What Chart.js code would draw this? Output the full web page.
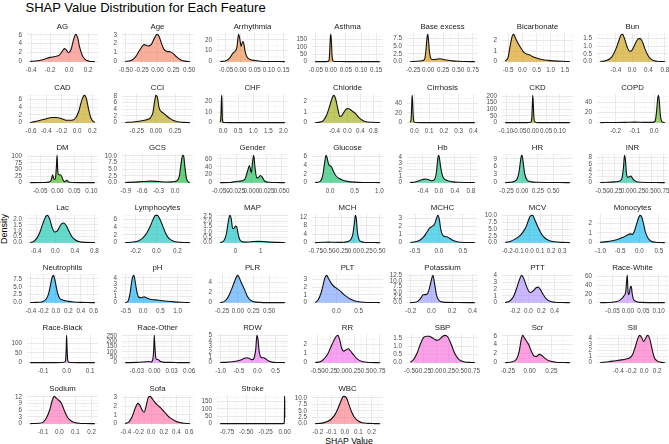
<!DOCTYPE html>
<html>
<head>
<meta charset="utf-8">
<script src="https://cdn.jsdelivr.net/npm/chart.js@4.4.1/dist/chart.umd.min.js"></script>
<style>
html,body{margin:0;padding:0;background:#fff;overflow:hidden;}
#wrap{position:relative;width:669px;height:444px;overflow:hidden;background:#fff;font-family:"Liberation Sans",Arial,sans-serif;}
#wrap canvas{position:absolute;}
.t{position:absolute;white-space:nowrap;line-height:1;color:#000;}
</style>
</head>
<body>
<div id="wrap">
  <div class="t" style="left:25.5px;top:1px;font-size:13px;">SHAP Value Distribution for Each Feature</div>
  <div class="t" style="left:4px;top:229px;font-size:9px;transform:translate(-50%,-50%) rotate(-90deg);">Density</div>
  <div class="t" style="left:349px;top:440.5px;font-size:8.7px;transform:translate(-50%,-50%);">SHAP Value</div>
</div>
<script>
const categories = ["AG","Age","Arrhythmia","Asthma","Base excess","Bicarbonate","Bun",
  "CAD","CCI","CHF","Chloride","Cirrhosis","CKD","COPD",
  "DM","GCS","Gender","Glucose","Hb","HR","INR",
  "Lac","Lymphocytes","MAP","MCH","MCHC","MCV","Monocytes",
  "Neutrophils","pH","PLR","PLT","Potassium","PTT","Race-White",
  "Race-Black","Race-Other","RDW","RR","SBP","Scr","SII",
  "Sodium","Sofa","Stroke","WBC"];

const shapValues = [
  [-0.41,-0.33,-0.26,-0.2,-0.15,-0.1,-0.07,-0.05,-0.03,-0.006,0.02,0.045,0.07,0.09,0.11,0.14,0.17,0.21,0.27],
  [-0.51,-0.42,-0.35,-0.28,-0.21,-0.15,-0.1,-0.05,-0.01,0.02,0.06,0.1,0.15,0.2,0.25,0.3,0.36,0.43,0.51],
  [-0.07,-0.05,-0.035,-0.025,-0.018,-0.012,-0.006,-0.002,0.003,0.008,0.012,0.017,0.024,0.035,0.05,0.07,0.1,0.155],
  [-0.052,-0.02,-0.01,-0.006,-0.004,-0.002,0,0.002,0.004,0.007,0.012,0.03,0.06,0.1,0.162],
  [-0.3,-0.2,-0.1,-0.06,-0.04,-0.02,-0.01,0,0.02,0.04,0.07,0.1,0.15,0.2,0.25,0.3,0.4,0.5,0.6,0.78],
  [-0.6,-0.5,-0.42,-0.35,-0.3,-0.25,-0.15,-0.05,0.05,0.15,0.25,0.35,0.5,0.7,0.9,1.1,1.4,1.67],
  [-0.78,-0.65,-0.5,-0.4,-0.32,-0.27,-0.23,-0.18,-0.12,-0.06,-0.02,0.04,0.1,0.16,0.2,0.26,0.32,0.4,0.5,0.6,0.8],
  [-0.61,-0.55,-0.48,-0.4,-0.33,-0.27,-0.2,-0.13,-0.07,-0.02,0.02,0.05,0.08,0.1,0.12,0.15,0.18,0.21,0.23],
  [-0.4,-0.3,-0.2,-0.12,-0.07,-0.04,-0.02,0,0.02,0.04,0.07,0.1,0.14,0.18,0.22,0.28,0.35,0.44],
  [-0.1,-0.08,-0.06,-0.05,-0.04,-0.03,-0.015,0,0.05,0.2,0.5,1,1.5,2.05],
  [-1.0,-0.85,-0.75,-0.65,-0.55,-0.47,-0.42,-0.37,-0.3,-0.24,-0.18,-0.1,-0.04,0.02,0.08,0.15,0.25,0.35,0.45,0.55,0.7,1.0],
  [-0.028,-0.022,-0.018,-0.015,-0.012,-0.008,-0.004,0,0.01,0.05,0.1,0.2,0.3,0.41],
  [-0.103,-0.05,-0.02,-0.008,-0.004,-0.002,0,0.002,0.004,0.008,0.02,0.05,0.1,0.138],
  [-0.28,-0.2,-0.15,-0.1,-0.05,-0.01,0.005,0.012,0.018,0.022,0.026,0.032,0.04,0.055],
  [-0.08,-0.04,-0.025,-0.018,-0.014,-0.01,-0.006,-0.003,-0.001,0.001,0.004,0.008,0.012,0.016,0.02,0.025,0.028,0.032,0.045,0.07,0.11],
  [-0.91,-0.75,-0.6,-0.45,-0.3,-0.15,-0.05,0.03,0.08,0.11,0.14,0.16,0.18,0.21,0.25,0.27],
  [-0.051,-0.035,-0.025,-0.015,-0.01,-0.006,-0.003,0,0.002,0.004,0.006,0.009,0.012,0.015,0.018,0.022,0.03,0.04,0.055],
  [-0.3,-0.2,-0.15,-0.11,-0.08,-0.06,-0.03,0,0.03,0.07,0.12,0.18,0.25,0.35,0.5,0.7,1.01],
  [-0.72,-0.6,-0.5,-0.4,-0.33,-0.25,-0.17,-0.1,-0.06,-0.03,-0.01,0.01,0.04,0.08,0.12,0.18,0.25,0.35,0.5,0.7,0.9],
  [-0.27,-0.2,-0.12,-0.08,-0.05,-0.03,-0.01,0.005,0.02,0.04,0.07,0.1,0.15,0.25,0.4,0.6,0.76],
  [-0.55,-0.4,-0.25,-0.15,-0.1,-0.07,-0.05,-0.03,-0.01,0.02,0.05,0.08,0.11,0.15,0.2,0.3,0.45,0.6,0.78],
  [-0.52,-0.45,-0.38,-0.32,-0.26,-0.2,-0.16,-0.12,-0.07,-0.02,0.03,0.08,0.13,0.17,0.22,0.28,0.34,0.42,0.5,0.62,0.81],
  [-0.3,-0.22,-0.17,-0.13,-0.09,-0.06,-0.03,-0.01,0.01,0.03,0.06,0.09,0.12,0.16,0.2,0.25,0.32],
  [-0.6,-0.45,-0.35,-0.28,-0.22,-0.17,-0.11,-0.06,0,0.05,0.1,0.17,0.25,0.35,0.5,0.7,0.9,1.1,1.4,1.7,1.95],
  [-0.76,-0.6,-0.5,-0.4,-0.3,-0.2,-0.12,-0.06,-0.02,0.01,0.03,0.05,0.07,0.1,0.14,0.2,0.3,0.4,0.51],
  [-0.6,-0.5,-0.4,-0.32,-0.25,-0.19,-0.14,-0.09,-0.05,-0.02,0.01,0.04,0.08,0.13,0.18,0.23,0.3,0.4,0.55,0.75],
  [-0.22,-0.17,-0.13,-0.09,-0.06,-0.03,-0.01,0.01,0.03,0.05,0.08,0.11,0.14,0.18,0.23,0.3,0.37],
  [-1.01,-0.85,-0.7,-0.55,-0.42,-0.32,-0.24,-0.18,-0.12,-0.06,-0.02,0.02,0.06,0.1,0.15,0.22,0.3,0.42,0.55,0.65],
  [-0.41,-0.3,-0.22,-0.16,-0.12,-0.09,-0.06,-0.04,-0.02,0,0.03,0.06,0.1,0.15,0.2,0.28,0.4,0.5,0.62],
  [-0.52,-0.45,-0.38,-0.32,-0.27,-0.22,-0.17,-0.12,-0.05,0.03,0.1,0.2,0.35,0.5,0.7,0.9,1.1,1.35],
  [-0.28,-0.22,-0.17,-0.13,-0.09,-0.05,-0.02,0,0.02,0.05,0.08,0.11,0.15,0.2,0.27,0.35,0.5,0.75],
  [-0.48,-0.42,-0.35,-0.3,-0.26,-0.22,-0.18,-0.12,-0.06,0,0.06,0.12,0.2,0.3,0.4,0.55,0.75,0.98],
  [-0.205,-0.16,-0.13,-0.1,-0.08,-0.06,-0.04,-0.02,0,0.015,0.03,0.05,0.07,0.1,0.15,0.25,0.42],
  [-0.35,-0.28,-0.22,-0.17,-0.13,-0.1,-0.07,-0.03,0.01,0.04,0.08,0.12,0.15,0.18,0.22,0.27,0.33,0.4,0.5,0.63],
  [-0.09,-0.06,-0.04,-0.03,-0.02,-0.012,-0.007,-0.004,-0.002,0,0.002,0.005,0.008,0.011,0.014,0.018,0.025,0.04,0.07,0.12],
  [-0.155,-0.1,-0.05,-0.02,-0.01,-0.005,-0.002,0,0.002,0.005,0.01,0.02,0.05,0.12],
  [-0.05,-0.03,-0.015,-0.01,-0.006,-0.003,-0.001,0,0.001,0.003,0.006,0.01,0.015,0.025,0.04,0.061],
  [-1.01,-0.8,-0.6,-0.45,-0.35,-0.27,-0.2,-0.13,-0.08,-0.04,-0.01,0.02,0.05,0.1,0.17,0.22,0.3,0.4,0.55,0.75],
  [-0.55,-0.45,-0.38,-0.3,-0.24,-0.18,-0.13,-0.09,-0.05,-0.01,0.03,0.08,0.12,0.16,0.22,0.3,0.4,0.55,0.76],
  [-0.52,-0.45,-0.38,-0.32,-0.26,-0.2,-0.14,-0.08,-0.02,0.03,0.08,0.13,0.18,0.23,0.3,0.37,0.45,0.55,0.7,0.77],
  [-0.28,-0.2,-0.15,-0.12,-0.1,-0.08,-0.06,-0.03,-0.01,0.02,0.05,0.08,0.11,0.14,0.18,0.23,0.3,0.4,0.46],
  [-0.68,-0.55,-0.45,-0.35,-0.28,-0.22,-0.18,-0.14,-0.1,-0.07,-0.04,-0.01,0.02,0.05,0.07,0.1,0.13,0.16,0.2,0.25,0.32],
  [-0.18,-0.13,-0.1,-0.08,-0.06,-0.045,-0.032,-0.02,-0.005,0.01,0.02,0.035,0.05,0.07,0.09,0.12,0.16,0.22],
  [-0.41,-0.35,-0.3,-0.25,-0.21,-0.18,-0.14,-0.11,-0.08,-0.05,-0.02,0.01,0.05,0.1,0.15,0.2,0.25,0.3,0.38,0.45,0.52,0.61],
  [-0.84,-0.6,-0.4,-0.2,-0.05,-0.02,-0.01,-0.006,-0.003,-0.001,0,0.001,0.002],
  [-0.22,-0.17,-0.13,-0.1,-0.07,-0.05,-0.03,-0.01,0.01,0.03,0.05,0.07,0.1,0.13,0.17,0.22,0.26]
];

const densityValues = [
  [0.05,0.2,0.55,0.95,1.15,1.5,2.4,2.9,2.6,2.0,2.7,4.8,6.1,5.3,3.3,1.3,0.45,0.1,0.01],
  [0.02,0.12,0.5,1.3,1.9,1.75,1.9,2.6,3.05,2.9,2.1,1.4,1.15,1.1,0.9,0.55,0.22,0.06,0.01],
  [0.1,0.8,4,8,9.5,13,25,21,14,18.5,17,9,4,2,1,0.4,0.15,0.05],
  [0.05,0.3,1.5,12,70,160,185,120,35,5,1,0.5,0.4,0.3,0.1],
  [0.02,0.1,0.3,0.8,3,7.5,8.7,8,3.5,1.2,0.7,0.7,0.8,0.9,0.75,0.5,0.25,0.1,0.04,0.01],
  [0.05,0.4,1.6,2.45,2.6,2.3,1.75,1.3,0.9,0.72,0.65,0.5,0.35,0.2,0.12,0.07,0.03,0.01],
  [0.01,0.06,0.3,0.8,1.4,1.75,1.78,1.45,0.95,0.68,0.7,0.95,1.3,1.5,1.5,1.25,0.8,0.35,0.1,0.03,0.01],
  [0.05,0.25,0.6,1.0,1.3,1.3,1.0,0.6,0.6,1.2,2.8,5.0,6.7,7.0,6.2,3.4,1.2,0.3,0.1],
  [0.05,0.2,0.5,0.9,1.5,3,6,8.2,7.5,4.5,3.3,2.8,2.0,1.3,0.7,0.25,0.08,0.01],
  [0.5,5,22,26,18,5,1,0.4,0.1,0.03,0.01,0.01,0.01,0.005],
  [0.01,0.05,0.2,0.7,1.6,2.4,2.6,2.3,1.3,0.6,0.65,1.05,1.3,1.35,1.25,1.1,0.85,0.5,0.25,0.1,0.03,0.01],
  [0.5,8,35,56,45,15,3,1,0.3,0.1,0.05,0.03,0.02,0.01],
  [0,0.02,0.3,3,30,120,205,130,40,5,0.3,0.05,0.01,0],
  [0.05,0.3,0.6,1.0,0.5,0.5,3,20,45,53,45,15,2,0.1],
  [0,0.3,2,10,30,12,15,60,103,45,30,30,25,12,4,6,9,3,0.5,0.1,0],
  [0.05,0.2,0.4,0.55,0.4,0.25,0.3,0.6,2.5,7,10.2,9.8,6,1.5,0.2,0.02],
  [0,0.5,3,5,10,30,43,25,50,69,40,12,13,18,14,4,0.8,0.2,0],
  [0.02,0.3,1.5,4.5,6.3,5.8,4.3,3.9,3.6,2.6,1.6,1.0,0.6,0.3,0.12,0.04,0.01],
  [0.01,0.1,0.3,0.5,0.58,0.45,0.3,0.6,1.8,3.7,4.3,4.0,2.6,1.3,0.7,0.4,0.25,0.12,0.05,0.02,0.01],
  [0.02,0.1,0.5,1.5,4,7.5,10.3,9.6,7,3.5,1.3,0.6,0.3,0.15,0.07,0.03,0.01],
  [0.02,0.1,0.25,0.5,1.5,5,8.7,7,3,1.7,1.9,2.1,1.5,0.7,0.3,0.12,0.05,0.02,0.01],
  [0.02,0.1,0.4,0.9,1.6,2.2,2.3,2.0,1.3,0.9,0.95,1.3,1.6,1.65,1.45,0.95,0.5,0.2,0.07,0.02,0.01],
  [0.02,0.15,0.5,1.2,2.6,4.2,6.1,7,7,6.2,4.3,2.3,1.1,0.45,0.15,0.05,0.01],
  [0.02,0.2,0.9,2.0,2.55,2.3,1.35,1.3,1.55,1.5,0.9,0.3,0.1,0.05,0.06,0.1,0.12,0.1,0.05,0.02,0.01],
  [0.02,0.15,0.25,0.15,0.1,0.2,0.5,1.5,4,9,12.8,11,5,1.5,0.5,0.2,0.08,0.03,0.01],
  [0.02,0.1,0.3,0.7,1.3,1.8,2.0,2.3,3.0,3.35,2.8,1.6,0.9,0.75,0.7,0.5,0.25,0.08,0.02,0.01],
  [0.1,0.5,1.3,2.4,3.8,5.8,8.0,9.9,10.1,8.5,5.7,3.3,1.8,0.8,0.3,0.08,0.02],
  [0.03,0.1,0.2,0.35,0.55,0.75,0.9,0.85,1.3,2.1,2.6,2.8,2.6,2.0,1.1,0.45,0.15,0.04,0.01,0.005],
  [0.02,0.08,0.3,1.0,2.6,5.2,8.0,8.6,7.5,5.5,2.8,1.4,0.9,0.6,0.4,0.22,0.08,0.03,0.01],
  [0.02,0.15,1.5,3.8,4.4,3.0,1.4,0.85,0.8,0.95,0.75,0.55,0.45,0.35,0.22,0.12,0.06,0.02],
  [0.02,0.2,0.8,1.7,2.9,4.2,5.1,5.35,5.0,4.1,3.3,2.5,1.3,0.5,0.15,0.05,0.01,0.005],
  [0.02,0.3,1.2,2.3,3.2,3.5,3.1,2.5,2.1,1.85,1.6,1.3,0.9,0.5,0.25,0.08,0.02,0.005],
  [0.01,0.15,0.7,2.3,3.6,3.7,4,6.5,10.5,12.6,9,3.5,1.2,0.35,0.1,0.03,0.005],
  [0.02,0.25,1.0,2.3,3.5,4.05,3.6,2.5,1.65,1.5,1.8,2.2,2.3,2.0,1.3,0.6,0.2,0.06,0.01,0.005],
  [0,0.3,2,4,9,16,25,50,62,30,18,22,35,37,20,8,3,0.5,0.1,0],
  [0,0.1,0.3,0.8,2,8,60,140,70,10,2,0.6,0.2,0],
  [0,2,8,10,6,20,120,255,150,35,30,12,5,2,0.5,0],
  [0.02,0.1,0.25,0.5,0.8,0.9,0.7,0.55,1.0,2.6,5.05,4.3,2.2,1.0,0.9,0.75,0.35,0.1,0.03,0.01],
  [0.01,0.1,0.35,0.9,1.6,2.3,2.8,2.95,2.4,1.5,1.25,1.4,1.5,1.3,0.9,0.4,0.12,0.02,0.005],
  [0.03,0.2,0.6,1.1,1.5,1.6,1.6,1.5,1.38,1.35,1.45,1.6,1.65,1.55,1.1,0.55,0.2,0.05,0.01,0.005],
  [0.01,0.2,0.8,2.5,4.8,6.1,5.5,4.6,4.0,2.5,1.5,1.4,1.85,1.6,0.9,0.35,0.1,0.02,0.005],
  [0.02,0.15,0.3,0.45,0.6,0.8,1.3,2.5,3.9,4.5,4.2,3.5,3.9,4.5,4.4,3.4,1.9,0.8,0.3,0.08,0.01],
  [0.01,0.15,0.7,2.5,6,10,12.2,11.5,10.5,9.5,8,5.2,3,1.4,0.6,0.2,0.05,0.01],
  [0.02,0.2,0.8,1.8,2.3,2.1,1.5,1.3,2.0,2.9,3.1,2.9,2.5,2.1,1.8,1.4,1.0,0.65,0.3,0.12,0.04,0.01],
  [0,0.01,0.01,0.02,0.05,0.2,1,5,30,120,185,150,40],
  [0.01,0.2,0.8,1.8,3.8,6,8.6,10.6,10.2,7.5,4.6,2.6,1.0,0.35,0.1,0.02,0.005]
];

const xTickLabels = [
  ["-0.4","-0.2","0.0","0.2"],
  ["-0.50","-0.25","0.00","0.25","0.50"],
  ["-0.05","0.00","0.05","0.10","0.15"],
  ["-0.05","0.00","0.05","0.10","0.15"],
  ["-0.25","0.00","0.25","0.50","0.75"],
  ["-0.5","0.0","0.5","1.0","1.5"],
  ["-0.4","0.0","0.4","0.8"],
  ["-0.6","-0.4","-0.2","0.0","0.2"],
  ["-0.25","0.00","0.25"],
  ["0.0","0.5","1.0","1.5","2.0"],
  ["-0.4","0.0","0.4","0.8"],
  ["0.0","0.1","0.2","0.3","0.4"],
  ["-0.10","-0.05","0.00","0.05","0.10"],
  ["-0.2","-0.1","0.0"],
  ["-0.05","0.00","0.05","0.10"],
  ["-0.9","-0.6","-0.3","0.0"],
  ["-0.050","-0.025","0.000","0.025","0.050"],
  ["0.0","0.5","1.0"],
  ["-0.4","0.0","0.4","0.8"],
  ["-0.25","0.00","0.25","0.50"],
  ["-0.50","-0.25","0.00","0.25","0.50","0.75"],
  ["-0.4","0.0","0.4","0.8"],
  ["-0.2","0.0","0.2"],
  ["0","1"],
  ["-0.75","-0.50","-0.25","0.00","0.25","0.50"],
  ["-0.5","0.0","0.5"],
  ["-0.2","-0.1","0.0","0.1","0.2","0.3"],
  ["-1.0","-0.5","0.0","0.5"],
  ["-0.4","-0.2","0.0","0.2","0.4","0.6"],
  ["-0.5","0.0","0.5","1.0"],
  ["-0.25","0.00","0.25","0.50"],
  ["0.0","0.5"],
  ["-0.2","0.0","0.2","0.4"],
  ["-0.2","0.0","0.2","0.4"],
  ["-0.05","0.00","0.05","0.10"],
  ["-0.1","0.0","0.1"],
  ["-0.03","0.00","0.03","0.06"],
  ["-1.0","-0.5","0.0","0.5"],
  ["-0.50","-0.25","0.00","0.25","0.50","0.75"],
  ["-0.50","-0.25","0.00","0.25","0.50","0.75"],
  ["-0.25","0.00","0.25"],
  ["-0.4","-0.2","0.0","0.2"],
  ["-0.1","0.0","0.1","0.2"],
  ["-0.4","-0.2","0.0","0.2","0.4","0.6"],
  ["-0.75","-0.50","-0.25","0.00"],
  ["-0.2","-0.1","0.0","0.1","0.2"]
];

const yTickLabels = [
  ["0","2","4","6"],["0","1","2","3"],["0","10","20"],["0","50","100","150"],
  ["0.0","2.5","5.0","7.5"],["0","1","2"],["0.0","0.5","1.0","1.5"],
  ["0","2","4","6"],["0","2","4","6","8"],["0","10","20"],["0","1","2"],
  ["0","20","40"],["0","50","100","150","200"],["0","20","40"],
  ["0","25","50","75","100"],["0.0","2.5","5.0","7.5","10.0"],["0","20","40","60"],
  ["0","2","4","6"],["0","1","2","3","4"],["0","3","6","9"],["0","2","4","6","8"],
  ["0.0","0.5","1.0","1.5","2.0"],["0","2","4","6"],["0.0","0.5","1.0","1.5","2.0","2.5"],
  ["0","4","8","12"],["0","1","2","3"],["0.0","2.5","5.0","7.5","10.0"],["0","1","2"],
  ["0.0","2.5","5.0","7.5"],["0","1","2","3","4"],["0","2","4"],["0","1","2","3"],
  ["0.0","2.5","5.0","7.5","10.0","12.5"],["0","1","2","3","4"],["0","20","40","60"],
  ["0","50","100"],["0","50","100","150","200","250"],["0","1","2","3","4","5"],
  ["0","1","2"],["0.0","0.5","1.0","1.5"],["0","2","4","6"],["0","1","2","3","4"],
  ["0","3","6","9","12"],["0","1","2","3"],["0","50","100","150"],["0.0","2.5","5.0","7.5","10.0"]
];

/* ---------- styling / layout ---------- */
const FONT = '"Liberation Sans", Arial, sans-serif';
Chart.defaults.font.family = FONT;
Chart.defaults.animation = false;

const NCOL = 7, PLOT_W = 71, PLOT_H = 30, PAD_L = 26, PAD_R = 16, PAD_T = 14, PAD_B = 12;
const colLeft = c => 27 + 95 * c;
const rowTop = r => Math.round(33.3 + 60.2 * r);

// ggplot2 hue palette (HCL, c=100, l=65)
function hcl(h, c, l) {
  const hr = h * Math.PI / 180;
  const U = c * Math.cos(hr), V = c * Math.sin(hr);
  const Xn = 95.047, Yn = 100, Zn = 108.883;
  const den = Xn + 15 * Yn + 3 * Zn;
  const un = 4 * Xn / den, vn = 9 * Yn / den;
  const Y = Yn * Math.pow((l + 16) / 116, 3);
  const u = U / (13 * l) + un, v = V / (13 * l) + vn;
  const X = 9 * Y * u / (4 * v);
  const Z = Y * (12 - 3 * u - 20 * v) / (4 * v);
  const x = X / 100, y = Y / 100, z = Z / 100;
  let r = 3.240479 * x - 1.537150 * y - 0.498535 * z;
  let g = -0.969256 * x + 1.875992 * y + 0.041556 * z;
  let b = 0.055648 * x - 0.204043 * y + 1.057311 * z;
  const gam = t => t <= 0.0031308 ? 12.92 * t : 1.055 * Math.pow(t, 1 / 2.4) - 0.055;
  const cl = t => Math.max(0, Math.min(255, Math.round(gam(t) * 255)));
  return [cl(r), cl(g), cl(b)];
}

function buildTicks(labels, lo, hi) {
  const vals = labels.map(Number);
  const step = vals[1] - vals[0];
  const out = labels.map((l, i) => ({ value: vals[i], lab: l, minor: false }));
  for (let k = -1; k < vals.length; k++) {
    const m = vals[0] + (k + 0.5) * step;
    if (m > lo && m < hi) out.push({ value: m, lab: '', minor: true });
  }
  out.sort((a, b) => a.value - b.value);
  return out;
}

const stripPlugin = {
  id: 'strip',
  afterDraw(chart, args, opts) {
    const { ctx, chartArea } = chart;
    ctx.save();
    ctx.font = '7.8px ' + FONT;
    ctx.fillStyle = '#1A1A1A';
    ctx.textAlign = 'center';
    ctx.textBaseline = 'middle';
    ctx.fillText(opts.text, (chartArea.left + chartArea.right) / 2, chartArea.top - 6.3);
    ctx.restore();
  }
};

const wrap = document.getElementById('wrap');
const n = categories.length;

categories.forEach((name, i) => {
  const r = Math.floor(i / NCOL), c = i % NCOL;
  const xs = shapValues[i], ys = densityValues[i];
  const xt = xTickLabels[i].map(Number), yt = yTickLabels[i].map(Number);
  const xlo = Math.min(xs[0], xt[0]), xhi = Math.max(xs[xs.length - 1], xt[xt.length - 1]);
  const xr = xhi - xlo;
  const xmin = xlo - 0.05 * xr, xmax = xhi + 0.05 * xr;
  const ytop = Math.max(Math.max(...ys), yt[yt.length - 1]);
  const ymin = -0.05 * ytop, ymax = 1.05 * ytop;
  const xTicks = buildTicks(xTickLabels[i], xmin, xmax);
  const yTicks = buildTicks(yTickLabels[i], ymin, ymax);

  const [cr, cg, cb] = hcl(15 + 360 * i / n, 100, 65);

  const cv = document.createElement('canvas');
  const W = PAD_L + PLOT_W + PAD_R, H = PAD_T + PLOT_H + PAD_B;
  cv.width = W; cv.height = H;
  cv.style.width = W + 'px'; cv.style.height = H + 'px';
  cv.style.left = (colLeft(c) - PAD_L) + 'px';
  cv.style.top = (rowTop(r) - PAD_T) + 'px';
  wrap.appendChild(cv);

  const gridOpts = {
    drawTicks: false,
    color: ctx => (ctx.tick && ctx.tick.minor) ? '#F2F2F2' : '#E6E6E6',
    lineWidth: ctx => (ctx.tick && ctx.tick.minor) ? 0.6 : 0.9
  };
  const tickFont = { size: 6.3, family: FONT };

  new Chart(cv, {
    type: 'line',
    data: {
      datasets: [{
        data: xs.map((x, k) => ({ x: x, y: ys[k] })),
        borderColor: '#111',
        borderWidth: 1.1,
        backgroundColor: `rgba(${cr},${cg},${cb},0.6)`,
        fill: 'origin',
        pointRadius: 0,
        cubicInterpolationMode: 'monotone'
      }]
    },
    plugins: [stripPlugin],
    options: {
      responsive: false,
      animation: false,
      events: [],
      layout: { padding: { left: 0, right: PAD_R, top: PAD_T, bottom: 0 } },
      plugins: {
        legend: { display: false },
        tooltip: { enabled: false },
        strip: { text: name }
      },
      scales: {
        x: {
          type: 'linear', min: xmin, max: xmax,
          border: { display: false },
          grid: gridOpts,
          ticks: {
            autoSkip: false, maxRotation: 0, minRotation: 0, padding: 3.5,
            font: tickFont, color: '#4D4D4D',
            callback: (v, idx, tks) => tks[idx].lab
          },
          afterBuildTicks: s => { s.ticks = xTicks.map(t => Object.assign({}, t)); },
          afterFit: s => { s.height = PAD_B; s.paddingLeft = 0; s.paddingRight = 0; }
        },
        y: {
          type: 'linear', min: ymin, max: ymax,
          border: { display: false },
          grid: gridOpts,
          ticks: {
            autoSkip: false, padding: 5,
            font: tickFont, color: '#4D4D4D',
            callback: (v, idx, tks) => tks[idx].lab
          },
          afterBuildTicks: s => { s.ticks = yTicks.map(t => Object.assign({}, t)); },
          afterFit: s => { s.width = PAD_L; s.paddingTop = 0; s.paddingBottom = 0; }
        }
      }
    }
  });
});
</script>
</body>
</html>
